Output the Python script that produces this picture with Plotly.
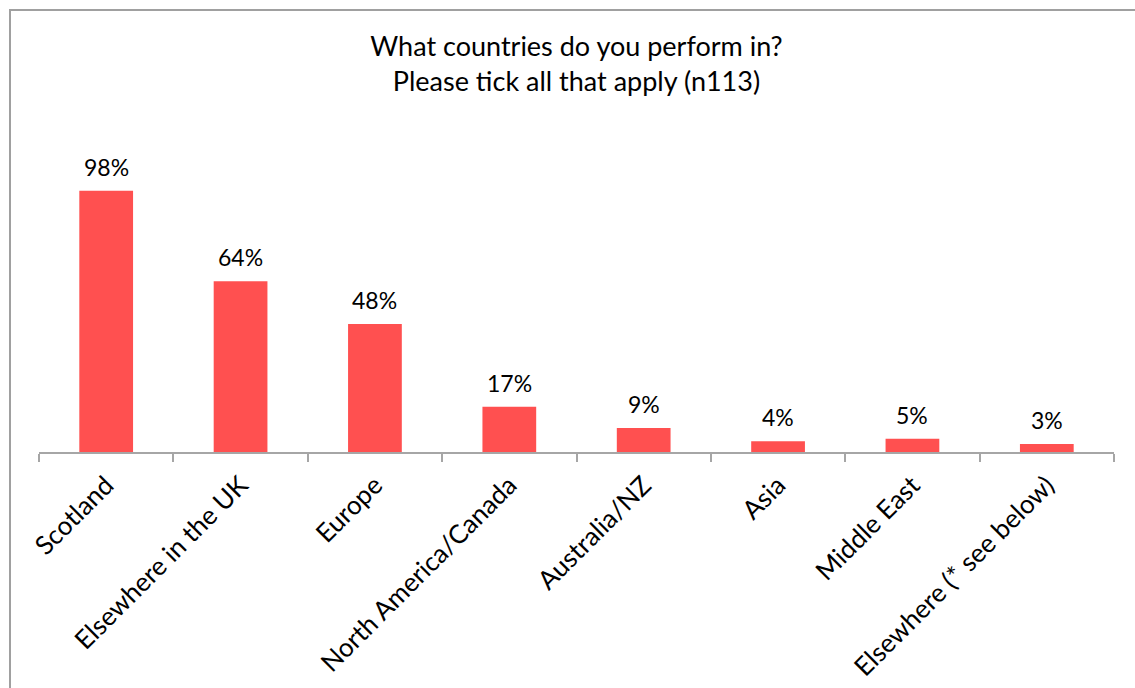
import plotly.graph_objects as go

# Survey responses: share of performers who work in each region
regions = [
    "Scotland",
    "Elsewhere in the UK",
    "Europe",
    "North America/Canada",
    "Australia/NZ",
    "Asia",
    "Middle East",
    "Elsewhere (* see below)",
]
share = [0.98, 0.64, 0.48, 0.17, 0.09, 0.04, 0.05, 0.03]

FONT = "Lato"
BAR_COLOR = "#FF5050"
AXIS_GREY = "#A6A6A6"

fig = go.Figure(
    go.Bar(
        x=regions,
        y=share,
        marker=dict(color=BAR_COLOR, line=dict(width=0)),
        hoverinfo="skip",
    )
)

# value labels above each bar
for r, v in zip(regions, share):
    fig.add_annotation(
        x=r, y=v, xref="x", yref="y",
        text=f"{round(v * 100)}%",
        showarrow=False, yanchor="bottom", yshift=8,
        font=dict(family=FONT, size=23, color="#000000"),
    )

# chart frame (left and top edges)
fig.add_shape(
    type="path",
    xref="paper", yref="paper",
    path="M -0.02698 -0.8 L -0.02698 1.38125 L 1.03 1.38125",
    line=dict(color="#A0A0A0", width=2),
)

fig.update_layout(
    width=1135,
    height=688,
    margin=dict(l=39, r=21, t=132, b=236, autoexpand=False),
    paper_bgcolor="white",
    plot_bgcolor="white",
    bargap=0.6,
    showlegend=False,
    title=dict(
        text="What countries do you perform in?<br>Please tick all that apply (n113)",
        x=0.5, xanchor="center", xref="paper",
        y=1 - 56 / 688, yanchor="middle", yref="container",
        font=dict(family=FONT, size=27, color="#000000"),
    ),
    xaxis=dict(
        type="category",
        automargin=False,
        showline=True, linecolor=AXIS_GREY, linewidth=1.5,
        ticks="outside", tickson="boundaries", ticklen=8,
        tickcolor=AXIS_GREY, tickwidth=1.5,
        tickangle=-45,
        ticklabelstandoff=6,
        tickfont=dict(family=FONT, size=26, color="#000000"),
        showgrid=False, zeroline=False,
    ),
    yaxis=dict(
        range=[0, 1.2],
        visible=False,
        automargin=False,
        showgrid=False, zeroline=False,
    ),
)

fig.write_html("out.html")
